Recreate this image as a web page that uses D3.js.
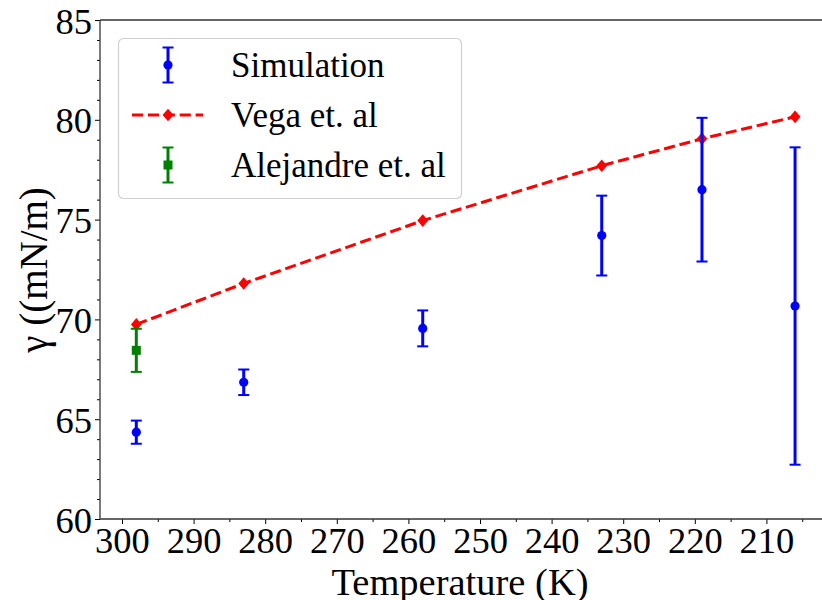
<!DOCTYPE html>
<html><head><meta charset="utf-8">
<script src="https://cdn.jsdelivr.net/npm/d3@7"></script>
<style>body{margin:0;background:#fff}svg{display:block}text{font-family:"Liberation Serif","Times New Roman",serif;fill:#000}</style>
</head><body><svg id="c" width="822" height="600"></svg>
<script>
const simT = [298, 283, 258, 233, 219, 206];
const simV = [64.35, 66.85, 69.55, 74.2, 76.5, 70.67];
const simE = [0.58, 0.64, 0.9, 2.0, 3.6, 7.95];
const vegaT = [298, 283, 258, 233, 219, 206];
const vegaV = [69.75, 71.8, 74.95, 77.7, 79.05, 80.15];
const aleT = [298];
const aleV = [68.45];
const aleE = [1.08];
const xTicks = [300, 290, 280, 270, 260, 250, 240, 230, 220, 210];
const yTicks = [60, 65, 70, 75, 80, 85];
const legendLabels = ["Simulation", "Vega et. al", "Alejandre et. al"];

const svg = d3.select("#c");
const L = 100, T = 20, B = 519, R = 828;
const x = d3.scaleLinear().domain([303.07, 201.4]).range([L, R]);
const y = d3.scaleLinear().domain([60, 85]).range([B, T]);

// axes
const xMinor = d3.range(205, 305, 5).filter(v => v % 10 !== 0);
const yMinor = d3.range(60, 86, 1).filter(v => v % 5 !== 0);
svg.append("g").attr("transform", `translate(0,${B})`)
  .call(d3.axisBottom(x).tickValues(xMinor).tickSize(3).tickFormat(""));
const gx2 = svg.append("g").attr("transform", `translate(0,${B})`)
  .call(d3.axisBottom(x).tickValues(xTicks).tickSize(5).tickPadding(3).tickFormat(d3.format("d")));
gx2.selectAll("text").style("font-size", "36.5px").attr("dy", "0.72em");
svg.append("g").attr("transform", `translate(${L},0)`)
  .call(d3.axisLeft(y).tickValues(yMinor).tickSize(3).tickFormat(""));
const gy2 = svg.append("g").attr("transform", `translate(${L},0)`)
  .call(d3.axisLeft(y).tickValues(yTicks).tickSize(5).tickPadding(3).tickFormat(d3.format("d")));
gy2.selectAll("text").style("font-size", "36.5px").attr("dy", "0.36em");
svg.selectAll(".domain").remove();
svg.selectAll(".tick line").attr("stroke", "#000").attr("stroke-width", 1);

// spines
svg.append("line").attr("x1", L).attr("x2", L).attr("y1", T).attr("y2", B).attr("stroke", "#333").attr("stroke-width", 1.3);
svg.append("line").attr("x1", L).attr("x2", 822).attr("y1", B).attr("y2", B).attr("stroke", "#333").attr("stroke-width", 1.3);
svg.append("line").attr("x1", L).attr("x2", 822).attr("y1", T).attr("y2", T).attr("stroke", "#333").attr("stroke-width", 1.3);

// labels
svg.append("text").attr("x", 460).attr("y", 595).attr("text-anchor", "middle").style("font-size", "38.5px").text("Temperature (K)");
svg.append("text").attr("transform", "translate(47,270) rotate(-90)").attr("text-anchor", "middle").style("font-size", "39px").text("γ ((mN/m)");

function errbar(g, cx, cy1, cy2, color) {
  g.append("line").attr("x1", cx).attr("x2", cx).attr("y1", cy1).attr("y2", cy2).attr("stroke", color).attr("stroke-width", 3);
  [cy1, cy2].forEach(yy => g.append("line").attr("x1", cx - 5.5).attr("x2", cx + 5.5).attr("y1", yy).attr("y2", yy).attr("stroke", color).attr("stroke-width", 2));
}
const diamondPath = d3.symbol().type(d3.symbolSquare).size(80)();

// Vega line
const plot = svg.append("g");
plot.append("path").datum(vegaT.map((t, i) => [t, vegaV[i]]))
  .attr("d", d3.line().x(d => x(d[0])).y(d => y(d[1])))
  .attr("fill", "none").attr("stroke", "#ff0000").attr("stroke-width", 3).attr("stroke-dasharray", "11.1,4.8");
vegaT.forEach((t, i) => plot.append("path").attr("d", diamondPath)
  .attr("transform", `translate(${x(t)},${y(vegaV[i])}) scale(0.85,1) rotate(45)`).attr("fill", "#ff0000"));

// Simulation
simT.forEach((t, i) => {
  errbar(plot, x(t), y(simV[i] + simE[i]), y(simV[i] - simE[i]), "#0000ff");
  plot.append("circle").attr("cx", x(t)).attr("cy", y(simV[i])).attr("r", 4.6).attr("fill", "#0000ff");
});
// Alejandre
aleT.forEach((t, i) => {
  errbar(plot, x(t), y(aleV[i] + aleE[i]), y(aleV[i] - aleE[i]), "#008000");
  plot.append("rect").attr("x", x(t) - 4.5).attr("y", y(aleV[i]) - 4.5).attr("width", 9).attr("height", 9).attr("fill", "#008000");
});

// legend
const lg = svg.append("g");
lg.append("rect").attr("x", 118.5).attr("y", 38.5).attr("width", 343).attr("height", 160).attr("rx", 5)
  .attr("fill", "#fff").attr("fill-opacity", 0.8).attr("stroke", "#d0d0d0").attr("stroke-width", 1.2);
const hx = 168, rows = [65, 115, 165];
errbar(lg, hx, rows[0] - 17.5, rows[0] + 17.5, "#0000ff");
lg.append("circle").attr("cx", hx).attr("cy", rows[0]).attr("r", 4.6).attr("fill", "#0000ff");
lg.append("line").attr("x1", 132).attr("x2", 203).attr("y1", rows[1]).attr("y2", rows[1]).attr("stroke", "#ff0000").attr("stroke-width", 3).attr("stroke-dasharray", "11.1,4.8");
lg.append("path").attr("d", diamondPath)
  .attr("transform", `translate(${hx},${rows[1]}) scale(0.85,1) rotate(45)`).attr("fill", "#ff0000");
errbar(lg, hx, rows[2] - 17.5, rows[2] + 17.5, "#008000");
lg.append("rect").attr("x", hx - 4.5).attr("y", rows[2] - 4.5).attr("width", 9).attr("height", 9).attr("fill", "#008000");
legendLabels.forEach((s, i) => lg.append("text").attr("x", 231).attr("y", rows[i]).attr("dy", "0.35em").style("font-size", "35px").text(s));
</script></body></html>
